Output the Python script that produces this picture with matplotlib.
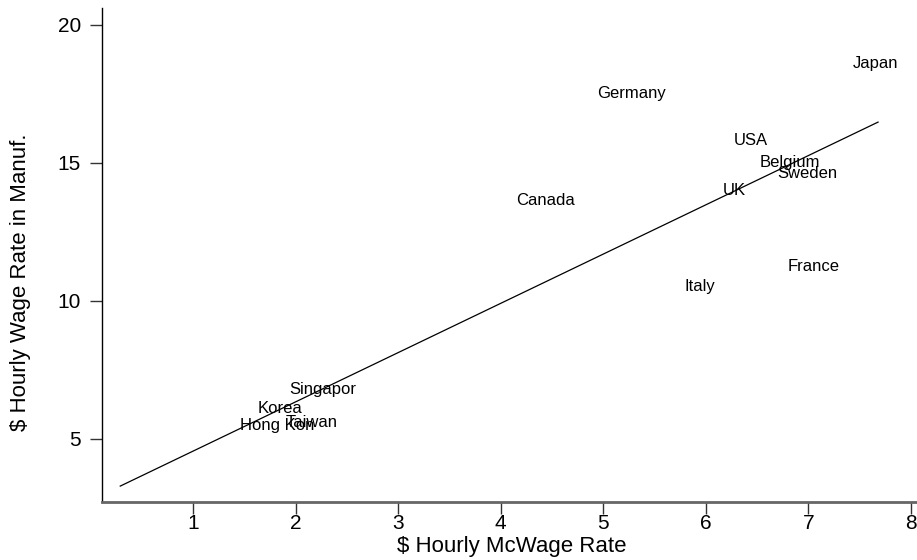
import numpy as np
import matplotlib
matplotlib.use("Agg")
import matplotlib.pyplot as plt

plt.rcParams["font.family"] = ["Liberation Sans", "DejaVu Sans"]

# McWage rate vs. manufacturing wage, by country
countries = ["Japan", "Germany", "USA", "Belgium", "Sweden", "UK", "Canada",
             "France", "Italy", "Singapor", "Korea", "Hong Kon", "Taiwan"]
mcwage = [7.43, 4.94, 6.27, 6.53, 6.70, 6.17, 4.15,
          6.80, 5.79, 1.94, 1.63, 1.46, 1.90]
manuf_wage = [18.62, 17.53, 15.82, 15.00, 14.63, 14.00, 13.65,
              11.25, 10.52, 6.78, 6.09, 5.47, 5.58]

# fitted regression line
fit_intercept = 2.77
fit_slope = 1.785
fit_x_range = [0.29, 7.68]

fig = plt.figure(figsize=(9.17, 5.6), dpi=100)
ax = fig.add_axes([0.111, 0.104, 0.889, 0.882])

for name, x, y in zip(countries, mcwage, manuf_wage):
    ax.text(x, y, name, ha="left", va="center", fontsize=12, color="black")

fx = np.array(fit_x_range)
ax.plot(fx, fit_intercept + fit_slope * fx, color="black", linewidth=0.9)

ax.set_xlim(0.11, 8.06)
ax.set_ylim(2.72, 20.62)
ax.set_xticks(range(1, 9))
ax.set_yticks([5, 10, 15, 20])

ax.spines["top"].set_visible(False)
ax.spines["right"].set_visible(False)
ax.spines["left"].set_color("black")
ax.spines["left"].set_linewidth(1.0)
ax.spines["bottom"].set_color("#666666")
ax.spines["bottom"].set_linewidth(2.0)
ax.tick_params(axis="both", direction="out", length=8.5, width=1.0,
               color="#333333", labelsize=15)
ax.tick_params(axis="x", pad=0.5)
ax.tick_params(axis="y", pad=6.5)

ax.set_xlabel("$ Hourly McWage Rate", fontsize=16)
ax.set_ylabel("$ Hourly Wage Rate in Manuf.", fontsize=16)
ax.xaxis.set_label_coords(0.503, -0.069)
ax.yaxis.set_label_coords(-0.087, 0.444)

fig.savefig("out.png", dpi=100)
